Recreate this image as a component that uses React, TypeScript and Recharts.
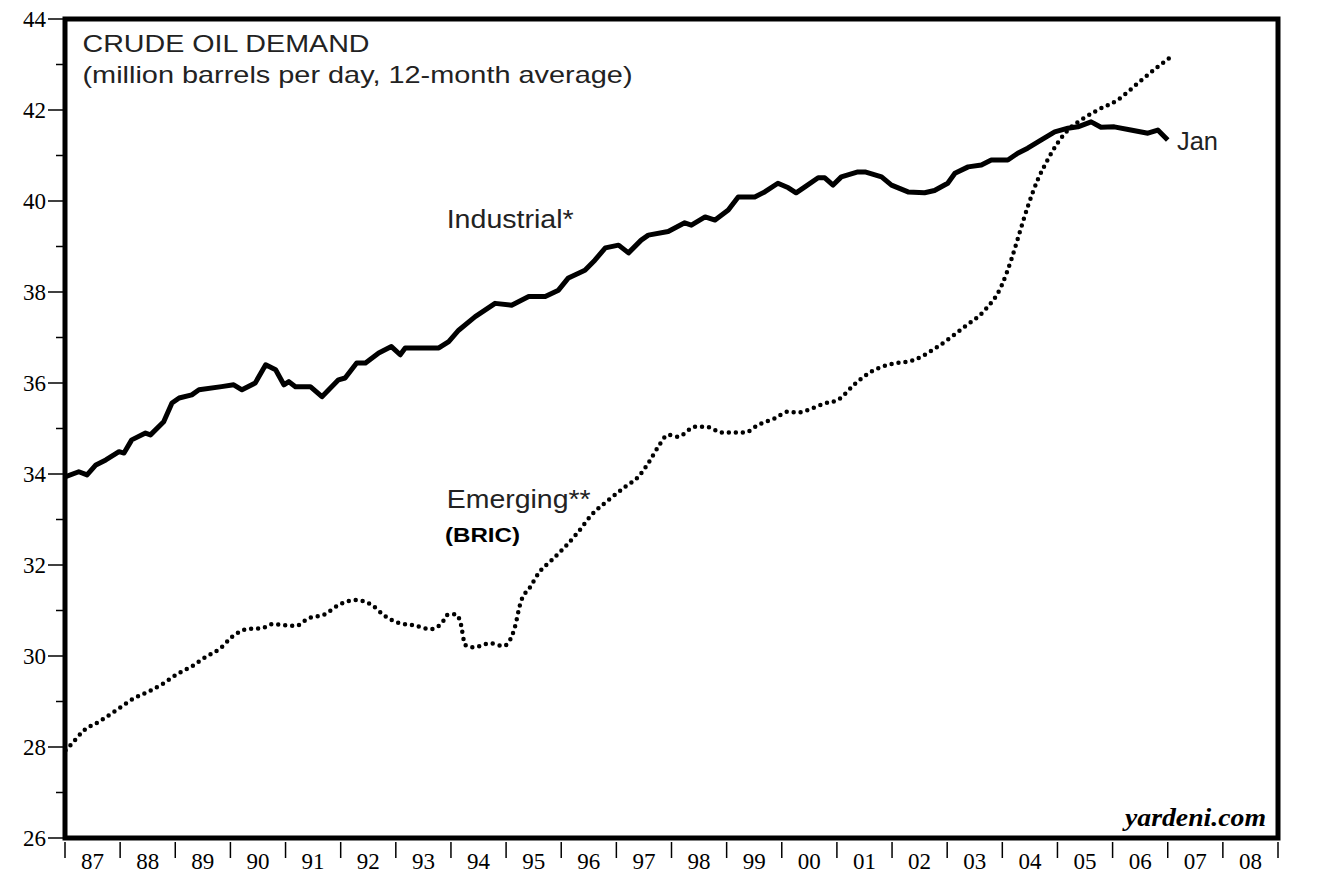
import { LineChart, Line, XAxis, YAxis, ReferenceArea } from 'recharts'

// decimal year / million barrels per day
const industrialYears = [
  1987.01, 1987.25, 1987.4, 1987.56, 1987.74, 1987.98, 1988.07, 1988.21, 1988.46, 1988.55,
  1988.79, 1988.94, 1989.07, 1989.3, 1989.43, 1989.84, 1990.06, 1990.21, 1990.45, 1990.64,
  1990.82, 1990.97, 1991.06, 1991.18, 1991.45, 1991.66, 1991.96, 1992.08, 1992.29, 1992.45,
  1992.69, 1992.92, 1993.08, 1993.17, 1993.78, 1993.96, 1994.14, 1994.44, 1994.8, 1995.1,
  1995.41, 1995.71, 1995.95, 1996.13, 1996.43, 1996.61, 1996.8, 1997.04, 1997.22, 1997.45,
  1997.58, 1997.94, 1998.24, 1998.36, 1998.61, 1998.79, 1999.03, 1999.21, 1999.51, 1999.69,
  1999.93, 2000.12, 2000.26, 2000.42, 2000.66, 2000.78, 2000.93, 2001.08, 2001.38, 2001.51,
  2001.81, 2001.99, 2002.29, 2002.59, 2002.77, 2003.01, 2003.14, 2003.38, 2003.62, 2003.8,
  2004.1, 2004.28, 2004.46, 2004.7, 2004.95, 2005.19, 2005.37, 2005.61, 2005.79, 2006.03,
  2006.33, 2006.64, 2006.82, 2007.0,
]
const industrialValues = [
  33.94, 34.05, 33.98, 34.2, 34.31, 34.49, 34.46, 34.75, 34.9, 34.86,
  35.15, 35.56, 35.67, 35.74, 35.85, 35.92, 35.96, 35.85, 36.0, 36.4,
  36.29, 35.96, 36.03, 35.92, 35.92, 35.7, 36.07, 36.11, 36.44, 36.44,
  36.66, 36.8, 36.62, 36.77, 36.77, 36.91, 37.16, 37.46, 37.75, 37.71,
  37.9, 37.9, 38.04, 38.31, 38.48, 38.7, 38.97, 39.03, 38.86, 39.14,
  39.25, 39.33, 39.52, 39.47, 39.65, 39.58, 39.8, 40.09, 40.09, 40.2,
  40.39, 40.29, 40.18, 40.31, 40.51, 40.51, 40.35, 40.53, 40.64, 40.64,
  40.53, 40.35, 40.2, 40.18, 40.23, 40.39, 40.61, 40.75, 40.79, 40.9,
  40.9, 41.05, 41.16, 41.34, 41.52, 41.6, 41.63, 41.74, 41.62, 41.63,
  41.56, 41.49, 41.56, 41.34,
]

const emergingYears = [
  1987.01, 1987.13, 1987.34, 1987.62, 1987.98, 1988.25, 1988.52, 1988.79, 1989.03, 1989.31,
  1989.55, 1989.82, 1990.03, 1990.3, 1990.57, 1990.76, 1991.03, 1991.18, 1991.42, 1991.72,
  1991.96, 1992.27, 1992.57, 1992.78, 1993.05, 1993.35, 1993.62, 1993.84, 1993.93, 1994.08,
  1994.17, 1994.26, 1994.41, 1994.71, 1994.95, 1995.07, 1995.16, 1995.26, 1995.44, 1995.59,
  1995.83, 1996.07, 1996.31, 1996.55, 1996.86, 1997.16, 1997.4, 1997.58, 1997.76, 1997.94,
  1998.12, 1998.43, 1998.67, 1998.91, 1999.33, 1999.57, 1999.87, 2000.12, 2000.3, 2000.54,
  2000.78, 2001.02, 2001.31, 2001.62, 2001.93, 2002.41, 2002.83, 2003.32, 2003.68, 2003.98,
  2004.16, 2004.31, 2004.46, 2004.64, 2004.82, 2005.0, 2005.19, 2005.43, 2005.73, 2006.09,
  2006.46, 2006.82, 2007.03,
]
const emergingValues = [
  27.93, 28.08, 28.36, 28.56, 28.85, 29.07, 29.22, 29.4, 29.6, 29.78,
  29.98, 30.17, 30.42, 30.59, 30.61, 30.7, 30.67, 30.66, 30.83, 30.92,
  31.12, 31.23, 31.12, 30.9, 30.73, 30.67, 30.59, 30.73, 30.9, 30.92,
  30.75, 30.24, 30.19, 30.28, 30.22, 30.35, 30.64, 31.16, 31.52, 31.82,
  32.11, 32.4, 32.73, 33.1, 33.43, 33.72, 33.94, 34.24, 34.6, 34.86,
  34.82, 35.04, 35.03, 34.91, 34.91, 35.08, 35.22, 35.37, 35.35, 35.44,
  35.55, 35.63, 35.96, 36.25, 36.4, 36.51, 36.8, 37.24, 37.6, 38.12,
  38.7, 39.29, 39.87, 40.46, 40.9, 41.27, 41.56, 41.78, 42.0, 42.22,
  42.59, 42.95, 43.14,
]

const yearTicks = [
  1987, 1988, 1989, 1990, 1991, 1992, 1993, 1994, 1995, 1996, 1997, 1998,
  1999, 2000, 2001, 2002, 2003, 2004, 2005, 2006, 2007, 2008, 2009,
]
const valueTicks = [26, 27, 28, 29, 30, 31, 32, 33, 34, 35, 36, 37, 38, 39, 40, 41, 42, 43, 44]

const industrial = industrialYears.map((t, i) => ({ t, v: industrialValues[i] }))
const emerging = emergingYears.map((t, i) => ({ t, v: emergingValues[i] }))

// ticks at year boundaries, labels in the middle of each year
const xTicks = yearTicks.flatMap((y) => (y < 2009 ? [y, y + 0.5] : [y]))

const W = 1320
const H = 866
const PLOT_LEFT = 57
const PLOT_RIGHT = 1270
const PLOT_BOTTOM = 830

const serif = '"Liberation Serif", "Times New Roman", serif'
const sans = '"Liberation Sans", Arial, sans-serif'

function LeftTick(props: any) {
  const { y, payload } = props
  const major = payload.value % 2 === 0
  return (
    <g>
      <line x1={PLOT_LEFT - (major ? 17 : 9)} x2={PLOT_LEFT} y1={y} y2={y} stroke="#000" strokeWidth={1.5} />
      {major && (
        <text x={PLOT_LEFT - 19} y={y} dy="0.35em" textAnchor="end" fontFamily={serif} fontSize={23} fill="#000">
          {payload.value}
        </text>
      )}
    </g>
  )
}

function RightTick(props: any) {
  const { y, payload } = props
  const major = payload.value % 2 === 0
  return (
    <g>
      <line x1={PLOT_RIGHT} x2={PLOT_RIGHT + (major ? 17 : 9)} y1={y} y2={y} stroke="#000" strokeWidth={1.5} />
      {major && (
        <text x={PLOT_RIGHT + 19} y={y} dy="0.35em" textAnchor="start" fontFamily={serif} fontSize={23} fill="#000">
          {payload.value}
        </text>
      )}
    </g>
  )
}

function YearTick(props: any) {
  const { x, payload } = props
  const v = payload.value
  if (Number.isInteger(v)) {
    return <line x1={x} x2={x} y1={PLOT_BOTTOM + 4} y2={PLOT_BOTTOM + 20} stroke="#000" strokeWidth={1.5} />
  }
  const label = String(Math.floor(v) % 100).padStart(2, '0')
  return (
    <text x={x} y={PLOT_BOTTOM + 31} textAnchor="middle" fontFamily={serif} fontSize={23} fill="#000">
      {label}
    </text>
  )
}

export default function App() {
  return (
    <div style={{ width: W, height: H, background: '#fff' }}>
      <LineChart width={W} height={H} margin={{ top: 11, right: 0, bottom: 6, left: 7 }}>
        <XAxis
          dataKey="t"
          type="number"
          domain={[1987, 2009]}
          allowDataOverflow
          ticks={xTicks}
          interval={0}
          tick={YearTick}
          tickLine={false}
          axisLine={false}
          height={30}
        />
        <YAxis
          yAxisId="left"
          type="number"
          domain={[26, 44]}
          ticks={valueTicks}
          interval={0}
          tick={LeftTick}
          tickLine={false}
          axisLine={false}
          width={50}
        />
        <YAxis
          yAxisId="right"
          orientation="right"
          type="number"
          domain={[26, 44]}
          ticks={valueTicks}
          interval={0}
          tick={RightTick}
          tickLine={false}
          axisLine={false}
          width={50}
        />
        <ReferenceArea
          yAxisId="left"
          x1={1987}
          x2={2009}
          y1={26}
          y2={44}
          fill="none"
          stroke="#000"
          strokeWidth={5}
          ifOverflow="visible"
        />
        <Line
          yAxisId="left"
          data={industrial}
          dataKey="v"
          type="linear"
          stroke="#000"
          strokeWidth={5}
          strokeLinejoin="round"
          dot={false}
          isAnimationActive={false}
        />
        <Line
          yAxisId="left"
          data={emerging}
          dataKey="v"
          type="monotone"
          stroke="#000"
          strokeWidth={4.5}
          strokeDasharray="0 7"
          strokeLinecap="round"
          dot={false}
          isAnimationActive={false}
        />
        <text x={74.5} y={44} fontFamily={sans} fontSize={24} textLength={287} lengthAdjust="spacingAndGlyphs" fill="#222">
          CRUDE OIL DEMAND
        </text>
        <text x={74.5} y={75} fontFamily={sans} fontSize={24} textLength={550} lengthAdjust="spacingAndGlyphs" fill="#222">
          (million barrels per day, 12-month average)
        </text>
        <text x={438.7} y={220} fontFamily={sans} fontSize={25} textLength={127} lengthAdjust="spacingAndGlyphs" fill="#222">
          Industrial*
        </text>
        <text x={438.7} y={500} fontFamily={sans} fontSize={25} textLength={144} lengthAdjust="spacingAndGlyphs" fill="#222">
          Emerging**
        </text>
        <text x={437} y={534} fontFamily={sans} fontSize={21} fontWeight="bold" textLength={75} lengthAdjust="spacingAndGlyphs" fill="#000">
          (BRIC)
        </text>
        <text x={1169} y={142} fontFamily={sans} fontSize={25} textLength={41} lengthAdjust="spacingAndGlyphs" fill="#222">
          Jan
        </text>
        <text x={1117} y={818} fontFamily={serif} fontSize={26} fontStyle="italic" fontWeight="bold" textLength={141} lengthAdjust="spacingAndGlyphs" fill="#000">
          yardeni.com
        </text>
      </LineChart>
    </div>
  )
}
